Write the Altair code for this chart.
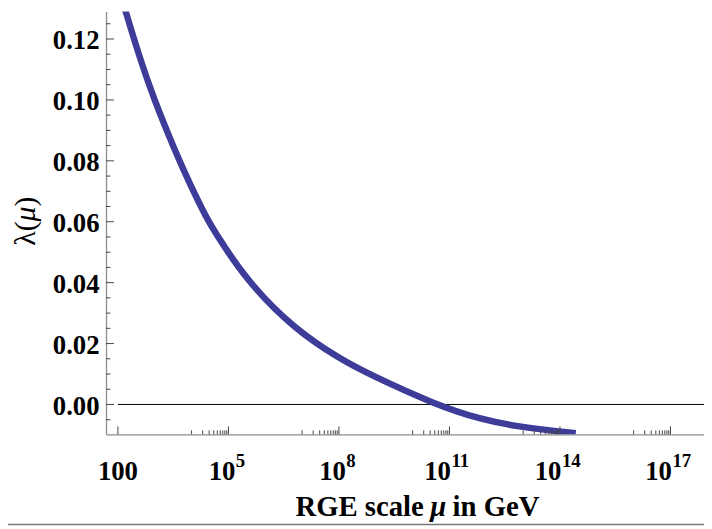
import altair as alt
import pandas as pd

# ---- data ----
log10_mu = [2.0, 2.22, 2.55, 2.97, 3.59, 3.92, 4.40, 4.65, 5.48, 6.80, 8.04, 8.77, 10.6, 11.91, 12.81, 13.70, 14.43]
lam = [0.1375, 0.1287, 0.1154, 0.1004, 0.0822, 0.0733, 0.0613, 0.0563, 0.0408, 0.0246, 0.0149, 0.0102, 0.0,
       -0.0051, -0.0071, -0.0085, -0.0094]

y_major = [0.0, 0.02, 0.04, 0.06, 0.08, 0.10, 0.12]
y_minor = [-0.005, 0.005, 0.01, 0.015, 0.025, 0.03, 0.035, 0.045, 0.05, 0.055,
           0.065, 0.07, 0.075, 0.085, 0.09, 0.095, 0.105, 0.11, 0.115, 0.125]
x_major_exp = [2, 5, 8, 11, 14, 17]
x_minor_decades = [4, 7, 10, 13, 16]
x_label_exp_1 = ["5", "8"]
x_label_exp_2 = ["11", "14", "17"]
x_domain_exp = [1.677, 17.91]
y_domain = [-0.0098, 0.129]
zero_line = {"from": 100.0, "to": 1e18, "y": 0.0}

W, H = 604, 427
FONT = "Liberation Serif"
CURVE = "#3d3d99"
TICK = "#444444"
AXIS = "#8c8c8c"

xs = alt.Scale(type="log", domain=[10 ** x_domain_exp[0], 10 ** x_domain_exp[1]], nice=False)
ys = alt.Scale(domain=y_domain, nice=False, zero=False)
XAX = alt.Axis(labels=False, ticks=False, grid=False, title=None, domainColor=AXIS, domainWidth=1.3)
YAX = alt.Axis(values=y_major, format=".2f", labelFont=FONT, labelFontSize=27, labelFontWeight="bold",
               labelColor="black", ticks=False, grid=False, title=None, domainColor=AXIS,
               domainWidth=1.3, labelPadding=7, labelOffset=2)


def X(field):
    return alt.X(field, scale=xs, axis=XAX)


def Y(field):
    return alt.Y(field, scale=ys, axis=YAX)


curve_df = pd.DataFrame({"mu": [10 ** e for e in log10_mu], "lam": lam})

curve = alt.Chart(curve_df).mark_line(
    color=CURVE, strokeWidth=6.5, clip=True, interpolate="basis", strokeCap="butt"
).encode(x=X("mu:Q"), y=Y("lam:Q"))

zero = alt.Chart(pd.DataFrame({"a": [zero_line["from"]], "b": [zero_line["to"]], "c": [zero_line["y"]]})).mark_rule(
    color="black", strokeWidth=1, clip=True
).encode(x=X("a:Q"), x2="b:Q", y=Y("c:Q"))

ymaj = alt.Chart(pd.DataFrame({"v": y_major})).mark_rule(color=TICK, strokeWidth=1).encode(
    y=Y("v:Q"), x=alt.value(0), x2=alt.value(8))
ymin = alt.Chart(pd.DataFrame({"v": y_minor})).mark_rule(color=TICK, strokeWidth=1).encode(
    y=Y("v:Q"), x=alt.value(0), x2=alt.value(4.5))

xmaj = alt.Chart(pd.DataFrame({"v": [10.0 ** e for e in x_major_exp]})).mark_rule(color=TICK, strokeWidth=1).encode(
    x=X("v:Q"), y=alt.value(H), y2=alt.value(H - 8))
xmin_vals = [k * 10.0 ** d for d in x_minor_decades for k in range(1, 10)]
xmin = alt.Chart(pd.DataFrame({"v": xmin_vals})).mark_rule(color=TICK, strokeWidth=1).encode(
    x=X("v:Q"), y=alt.value(H), y2=alt.value(H - 4))

lab_style = dict(font=FONT, fontWeight="bold", color="black", baseline="alphabetic")

lab100 = alt.Chart(pd.DataFrame({"v": [100.0], "t": ["100"]})).mark_text(
    align="center", fontSize=27, **lab_style).encode(x=X("v:Q"), y=alt.value(472.7), text="t:N")


def pow_labels(exps, dx):
    df = pd.DataFrame({"v": [10.0 ** int(e) for e in exps], "b": ["10"] * len(exps), "e": exps})
    base = alt.Chart(df).mark_text(align="right", dx=dx, fontSize=27, **lab_style).encode(
        x=X("v:Q"), y=alt.value(472.7), text="b:N")
    sup = alt.Chart(df).mark_text(align="left", dx=dx + 0.5, fontSize=19, **lab_style).encode(
        x=X("v:Q"), y=alt.value(460.3), text="e:N")
    return [base, sup]


def txt(t, x, y, **kw):
    return alt.Chart(pd.DataFrame({"t": [t]})).mark_text(font=FONT, color="black", **kw).encode(
        x=alt.value(x), y=alt.value(y), text="t:N")


# y title  λ(μ)  (μ italic), rotated
ytitle = [
    txt("λ(", -72, 212, angle=270, align="right", baseline="alphabetic", fontSize=30),
    txt("μ", -72, 212, angle=270, align="left", baseline="alphabetic", fontSize=30, fontStyle="italic"),
    txt(")", -72, 197, angle=270, align="left", baseline="alphabetic", fontSize=30),
]
# x title  RGE scale μ in GeV  (μ italic)
xtitle = [
    txt("RGE scale", 321, 509, align="right", baseline="alphabetic", fontSize=29, fontWeight="bold"),
    txt("μ", 335.5, 509, align="center", baseline="alphabetic", fontSize=29, fontWeight="bold", fontStyle="italic"),
    txt("in GeV", 350, 509, align="left", baseline="alphabetic", fontSize=29, fontWeight="bold"),
]
# thin separator line along the bottom of the figure
bottom_rule = alt.Chart(pd.DataFrame({"k": [0]})).mark_rule(color="#777777", strokeWidth=1.5).encode(
    x=alt.value(-99), x2=alt.value(605), y=alt.value(518))

layers = [zero, curve, ymaj, ymin, xmaj, xmin, lab100] + pow_labels(x_label_exp_1, 7) + \
         pow_labels(x_label_exp_2, 1.5) + ytitle + xtitle + [bottom_rule]

chart = alt.layer(*layers).properties(
    width=W, height=H,
    autosize=alt.AutoSizeParams(type="none"),
    padding={"left": 99, "top": 1, "right": 0, "bottom": 93},
    background="white",
).configure_view(stroke=None)

chart.save("out.html", embed_options={"renderer": "svg", "actions": False})
